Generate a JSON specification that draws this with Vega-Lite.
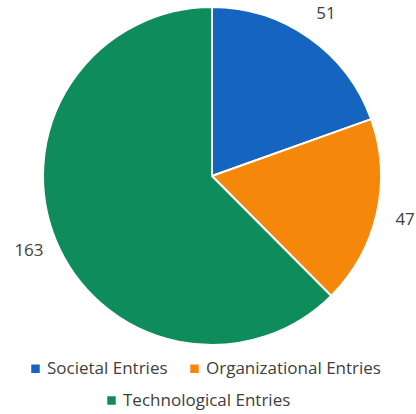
{
  "$schema": "https://vega.github.io/schema/vega-lite/v6.json",
  "autosize": "none",
  "width": 408,
  "height": 352,
  "padding": {"left": 8, "top": 0, "right": 0, "bottom": 62},
  "background": "white",
  "data": {"values": [
    {"category": "Societal Entries", "value": 51, "idx": 1},
    {"category": "Organizational Entries", "value": 47, "idx": 2},
    {"category": "Technological Entries", "value": 163, "idx": 3}
  ]},
  "encoding": {
    "theta": {"field": "value", "type": "quantitative", "stack": true},
    "order": {"field": "idx", "type": "quantitative"}
  },
  "layer": [
    {
      "mark": {"type": "arc", "outerRadius": 169, "stroke": "white", "strokeWidth": 2},
      "encoding": {
        "color": {
          "field": "category", "type": "nominal",
          "scale": {"domain": ["Societal Entries", "Organizational Entries", "Technological Entries"], "range": ["#1565C0", "#F5870A", "#0E8C5C"]},
          "legend": {
            "title": null, "orient": "none", "direction": "horizontal",
            "legendX": 19, "legendY": 360,
            "values": ["Societal Entries", "Organizational Entries"],
            "symbolType": "square", "symbolSize": 72, "symbolStrokeWidth": 0,
            "labelFont": "Open Sans", "labelFontSize": 17, "labelColor": "#404040",
            "labelOffset": 3, "columnPadding": 18, "labelLimit": 300
          }
        }
      }
    },
    {
      "mark": {"type": "arc", "outerRadius": 169, "stroke": "white", "strokeWidth": 2},
      "encoding": {
        "fill": {
          "field": "category", "type": "nominal",
          "scale": {"domain": ["Technological Entries", "Societal Entries", "Organizational Entries"], "range": ["#0E8C5C", "#1565C0", "#F5870A"]},
          "legend": {
            "title": null, "orient": "none", "direction": "horizontal",
            "legendX": 95, "legendY": 392,
            "values": ["Technological Entries"],
            "symbolType": "square", "symbolSize": 72, "symbolStrokeWidth": 0,
            "labelFont": "Open Sans", "labelFontSize": 17, "labelColor": "#404040",
            "labelOffset": 3, "labelLimit": 300
          }
        }
      }
    },
    {
      "mark": {"type": "text", "radius": 198, "font": "Open Sans", "fontSize": 17, "color": "#404040"},
      "encoding": {"text": {"field": "value", "type": "quantitative"}}
    }
  ]
}
